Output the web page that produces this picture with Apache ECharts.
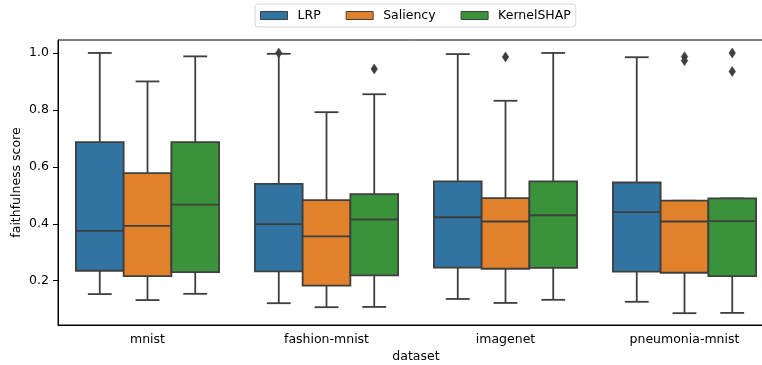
<!DOCTYPE html>
<html>
<head>
<meta charset="utf-8">
<script src="https://cdn.jsdelivr.net/npm/echarts@6/dist/echarts.min.js"></script>
<style>html,body{margin:0;padding:0;background:#fff;}#chart{width:762px;height:365px;}</style>
</head>
<body>
<div id="chart"></div>
<script>
const categories = ['mnist', 'fashion-mnist', 'imagenet', 'pneumonia-mnist'];
const methods = ['LRP', 'Saliency', 'KernelSHAP'];
// [low whisker, Q1, median, Q3, high whisker]
const lrpBoxes = [
  [0.153, 0.235, 0.375, 0.687, 1.000],
  [0.121, 0.233, 0.399, 0.540, 0.997],
  [0.136, 0.246, 0.423, 0.549, 0.996],
  [0.126, 0.232, 0.441, 0.545, 0.985]
];
const saliencyBoxes = [
  [0.132, 0.216, 0.393, 0.578, 0.900],
  [0.107, 0.183, 0.356, 0.483, 0.792],
  [0.122, 0.242, 0.408, 0.490, 0.832],
  [0.086, 0.228, 0.408, 0.481, 0.481]
];
const kernelBoxes = [
  [0.154, 0.230, 0.467, 0.687, 0.988],
  [0.108, 0.219, 0.415, 0.504, 0.855],
  [0.133, 0.245, 0.430, 0.549, 1.000],
  [0.087, 0.216, 0.409, 0.489, 0.489]
];
// outliers: [category index, value]
const lrpOutliers = [[1, 1.0]];
const saliencyOutliers = [[2, 0.986], [3, 0.987], [3, 0.973]];
const kernelOutliers = [[1, 0.944], [3, 1.0], [3, 0.935]];
const yTicks = [0.2, 0.4, 0.6, 0.8, 1.0];

const colors = ['#3274a1', '#e1812c', '#3a923a'];
const lineColor = '#3f3f3f';
const FONT = 'DejaVu Sans';
const FS = 12.5;

function boxRender(offsetIdx, color) {
  return function (params, api) {
    const cat = api.value(0);
    const band = api.size([1, 0])[0];
    const w = band * 0.8 / 3;
    const cx = api.coord([cat, 0])[0] + offsetIdx * w;
    const y = [1, 2, 3, 4, 5].map(i => api.coord([cat, api.value(i)])[1]);
    const capHalf = w / 4;
    const ls = { stroke: lineColor, lineWidth: 1.8 };
    return {
      type: 'group',
      children: [
        { type: 'line', shape: { x1: cx, y1: y[0], x2: cx, y2: y[1] }, style: ls },
        { type: 'line', shape: { x1: cx, y1: y[3], x2: cx, y2: y[4] }, style: ls },
        { type: 'line', shape: { x1: cx - capHalf, y1: y[0], x2: cx + capHalf, y2: y[0] }, style: ls },
        { type: 'line', shape: { x1: cx - capHalf, y1: y[4], x2: cx + capHalf, y2: y[4] }, style: ls },
        { type: 'rect', shape: { x: cx - w / 2, y: y[3], width: w, height: y[1] - y[3] },
          style: { fill: color, stroke: lineColor, lineWidth: 1.8 } },
        { type: 'line', shape: { x1: cx - w / 2, y1: y[2], x2: cx + w / 2, y2: y[2] }, style: ls }
      ]
    };
  };
}
function outlierRender(offsetIdx) {
  return function (params, api) {
    const cat = api.value(0);
    const band = api.size([1, 0])[0];
    const w = band * 0.8 / 3;
    const p = api.coord([cat, api.value(1)]);
    const cx = p[0] + offsetIdx * w, cy = p[1];
    const hw = 3.3, hh = 5;
    return {
      type: 'polygon',
      shape: { points: [[cx, cy - hh], [cx + hw, cy], [cx, cy + hh], [cx - hw, cy]] },
      style: { fill: lineColor, stroke: lineColor, lineWidth: 0.5 }
    };
  };
}

const boxSets = [lrpBoxes, saliencyBoxes, kernelBoxes];
const outSets = [lrpOutliers, saliencyOutliers, kernelOutliers];
const series = [];
methods.forEach((m, i) => {
  series.push({
    name: m, type: 'custom', color: colors[i],
    renderItem: boxRender(i - 1, colors[i]),
    encode: { x: 0, y: [1, 2, 3, 4, 5] },
    data: boxSets[i].map((b, k) => [k].concat(b)),
    z: 2
  });
  series.push({
    name: m, type: 'custom', color: colors[i],
    renderItem: outlierRender(i - 1),
    encode: { x: 0, y: 1 },
    data: outSets[i],
    z: 3
  });
});

const chart = echarts.init(document.getElementById('chart'), null, { renderer: 'canvas' });
chart.setOption({
  animation: false,
  backgroundColor: '#fff',
  textStyle: { fontFamily: FONT },
  legend: {
    left: 255, top: 4,
    padding: [5, 5, 5, 5],
    itemGap: 25,
    itemWidth: 27, itemHeight: 8,
    borderColor: '#d6d6d6', borderWidth: 1, borderRadius: 3,
    textStyle: { fontFamily: FONT, fontSize: FS, color: '#000', padding: [0, 0, 0, 5] },
    data: methods.map((m, i) => ({
      name: m, icon: 'rect',
      itemStyle: { color: colors[i], borderColor: lineColor, borderWidth: 1 }
    }))
  },
  grid: {
    left: 58, right: -12, top: 40, bottom: 40,
    containLabel: false, outerBoundsMode: 'none',
    show: true, borderColor: '#000', borderWidth: 1
  },
  xAxis: {
    type: 'category', data: categories, boundaryGap: true,
    name: 'dataset', nameLocation: 'middle', nameGap: 25, nameMoveOverlap: false,
    nameTextStyle: { fontFamily: FONT, fontSize: FS, color: '#000' },
    axisLine: { lineStyle: { color: '#000', width: 1 } },
    axisTick: { alignWithLabel: true, length: 5, lineStyle: { color: '#000' } },
    axisLabel: { fontFamily: FONT, fontSize: FS, color: '#000', margin: 8 },
    splitLine: { show: false }
  },
  yAxis: {
    type: 'value', min: 0.0445, max: 1.0455,
    name: 'faithfulness score', nameLocation: 'middle', nameGap: 35, nameMoveOverlap: false,
    nameTextStyle: { fontFamily: FONT, fontSize: FS, color: '#000' },
    axisLine: { show: true, lineStyle: { color: '#000', width: 1 } },
    axisTick: { show: true, length: 5, customValues: yTicks, lineStyle: { color: '#000' } },
    axisLabel: { fontFamily: FONT, fontSize: FS, color: '#000', margin: 9,
      customValues: yTicks, formatter: v => v.toFixed(1) },
    splitLine: { show: false }
  },
  series: series
});
</script>
</body>
</html>
